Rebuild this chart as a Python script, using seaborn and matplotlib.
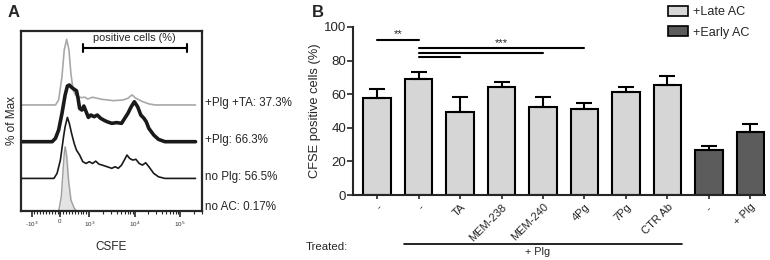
import numpy as np
import pandas as pd
import seaborn as sns
import matplotlib.pyplot as plt
import matplotlib.transforms as mtransforms
from matplotlib.patches import Patch

sns.set_style("ticks")
plt.rcParams['font.family'] = ['Liberation Sans', 'DejaVu Sans']

# ---- panel A: CFSE histograms (x in display channels, y in % of max units)
ta_x = [0, 199, 217, 236, 249, 263, 276, 287, 300, 313, 328, 346, 368, 383, 411, 438, 466, 494, 530, 586,
        613, 637, 659, 696, 733, 770, 1000]
ta_y = [0, 0, 2.8, 15.7, 30.6, 36.5, 30.6, 17.6, 8.3, 5.6, 4.6, 4.1, 4.3, 3.3, 4.3, 3.7, 3.1, 2.8, 2.4, 2.8,
        3.7, 5.6, 3.7, 1.9, 0.6, 0, 0]
plg_x = [0, 180, 199, 217, 236, 254, 267, 278, 291, 306, 319, 328, 337, 350, 361, 374, 387, 401, 420, 438,
         457, 475, 494, 521, 549, 577, 595, 613, 632, 650, 669, 687, 705, 718, 733, 761, 788, 825, 1000]
plg_y = [0, 0, 1.9, 6.5, 15.7, 25.9, 30.9, 31.5, 30.2, 29.1, 28.3, 24.1, 18.5, 17.6, 19.8, 16.7, 13.5, 14.8, 13.9, 14.8,
         13.0, 12.0, 11.1, 10.2, 10.6, 10.2, 13.0, 15.7, 19.4, 22.2, 19.4, 14.8, 13.0, 11.1, 7.4, 3.7, 1.3, 0, 0]
noplg_x = [0, 190, 208, 227, 245, 254, 267, 278, 291, 306, 319, 337, 355, 374, 392, 411, 429, 448, 466, 494,
           521, 540, 558, 577, 595, 608, 623, 641, 659, 678, 696, 715, 733, 761, 788, 825, 1000]
noplg_y = [0, 0, 2.8, 10.2, 23.1, 28.7, 33.9, 30.6, 25.0, 19.4, 15.7, 13.0, 9.3, 8.3, 9.3, 8.3, 9.6, 7.9, 7.4, 6.5,
           5.6, 6.5, 5.6, 7.4, 10.6, 13.0, 11.1, 10.2, 10.6, 8.3, 7.4, 8.7, 6.5, 2.8, 0.9, 0, 0]
noac_x = [217, 232, 241, 249, 254, 263, 273, 287, 306, 319]
noac_y = [0, 8.0, 20.9, 32.0, 35.7, 30.2, 17.2, 6.1, 1.5, 0]

offsets = [58.9, 38.5, 18.1, 0]
hist_labels = ["+Plg +TA: 37.3%", "+Plg: 66.3%", "no Plg: 56.5%", "no AC: 0.17%"]
tick_pos = [62, 222, 392, 652, 912]
tick_lab = ["-10$^3$", "0", "10$^3$", "10$^4$", "10$^5$"]

# ---- panel B: bar chart
groups = ["-", "-", "TA", "MEM-238", "MEM-240", "4Pg", "7Pg", "CTR Ab", "- ", "+ Plg"]
means = [57.9, 68.8, 49.4, 64.0, 52.2, 51.2, 61.5, 65.4, 26.9, 37.5]
errs = [5.3, 4.3, 8.7, 3.4, 5.9, 3.3, 2.5, 5.7, 2.5, 4.8]
ac_type = ["+Late AC"] * 8 + ["+Early AC"] * 2

fig = plt.figure(figsize=(7.7, 2.6), dpi=100)

# ================= A
axA = fig.add_axes([0.0269, 0.1885, 0.2352, 0.6923])
sns.lineplot(x=ta_x, y=np.array(ta_y) + offsets[0], ax=axA, color="#a8a8a8", linewidth=1.2, sort=False, estimator=None)
sns.lineplot(x=plg_x, y=np.array(plg_y) + offsets[1], ax=axA, color="#1a1a1a", linewidth=2.6, sort=False, estimator=None)
sns.lineplot(x=noplg_x, y=np.array(noplg_y) + offsets[2], ax=axA, color="#1a1a1a", linewidth=1.2, sort=False, estimator=None)
axA.fill_between(noac_x, noac_y, color="#e4e4e4", zorder=1)
axA.plot(noac_x, noac_y, color="#a0a0a0", linewidth=1.0)
axA.set_xlim(0, 1000)
axA.set_ylim(0, 100)
axA.set_yticks([])
axA.set_xticks(tick_pos)
axA.set_xticklabels(tick_lab, fontsize=4.5, color="#333333")
minor = list(np.linspace(62, 392, 21))
for d0 in (392, 652):
    minor += [d0 + 260 * np.log10(m) for m in range(2, 10)]
minor += [912 + 260 * np.log10(m) for m in range(2, 4)]
axA.set_xticks(minor, minor=True)
axA.tick_params(axis="x", which="major", length=4, width=1.2, direction="out", pad=2)
axA.tick_params(axis="x", which="minor", length=2, width=0.8)
for s in axA.spines.values():
    s.set_linewidth(1.6)
    s.set_visible(True)
axA.set_xlabel("CSFE", fontsize=8.5, labelpad=9)
axA.set_ylabel("% of Max", fontsize=8.5, labelpad=2)
# positive cells gate
axA.plot([355, 950], [90.7, 90.7], color="black", linewidth=1.5)
axA.plot([355, 355], [88.5, 92.9], color="black", linewidth=1.5)
axA.plot([950, 950], [88.5, 92.9], color="black", linewidth=1.5)
axA.text(652, 93.5, "positive cells (%)", fontsize=7.9, ha="center", va="bottom")
for lab, off in zip(hist_labels, offsets):
    axA.text(1.015, off / 100 + (0.01 if off > 0 else 0.02), lab, transform=axA.transAxes,
             fontsize=8.4, ha="left", va="center")

# ================= B
axB = fig.add_axes([0.4584, 0.25, 0.5351, 0.6462])
df = pd.DataFrame({"x": range(len(groups)), "mean": means, "type": ac_type})
sns.barplot(data=df, x="x", y="mean", hue="type", dodge=False, width=0.67,
            palette={"+Late AC": "#d6d6d6", "+Early AC": "#5c5c5c"},
            edgecolor="black", linewidth=1.5, errorbar=None, legend=False, ax=axB)
axB.errorbar(range(len(groups)), means, yerr=[np.zeros(len(errs)), errs], fmt="none",
             ecolor="black", elinewidth=1.5, capsize=6, capthick=1.5, zorder=1)
axB.set_xlim(-0.58, 9.35)
axB.set_ylim(0, 100)
axB.set_yticks([0, 20, 40, 60, 80, 100])
axB.tick_params(axis="y", labelsize=9.5, length=4, width=1.2, pad=1)
axB.set_xticks(range(len(groups)))
axB.set_xticklabels(groups, rotation=45, ha="right", rotation_mode="anchor", fontsize=8)
axB.tick_params(axis="x", length=3, width=1.2, pad=2)
axB.set_xlabel("")
axB.set_ylabel("CFSE positive cells (%)", fontsize=9.3, labelpad=2)
sns.despine(ax=axB)
for s in ("left", "bottom"):
    axB.spines[s].set_linewidth(1.5)

# significance lines
axB.plot([0, 1], [92.5, 92.5], color="black", linewidth=1.5)
axB.text(0.5, 92.8, "**", ha="center", va="bottom", fontsize=8)
axB.plot([1, 5], [87.2, 87.2], color="black", linewidth=1.5)
axB.plot([1, 4], [84.6, 84.6], color="black", linewidth=1.5)
axB.plot([1, 2], [82.0, 82.0], color="black", linewidth=1.5)
axB.text(3.0, 87.5, "***", ha="center", va="bottom", fontsize=8)

# treated annotation
trans = mtransforms.blended_transform_factory(axB.transData, axB.transAxes)
axB.plot([0.65, 7.35], [-0.29, -0.29], color="black", linewidth=1.2, transform=trans, clip_on=False)
axB.text(3.88, -0.31, "+ Plg", transform=trans, ha="center", va="top", fontsize=7.8)
fig.text(327 / 770, 1 - 247 / 260, "Treated:", fontsize=8.2, ha="center", va="center")

handles = [Patch(facecolor="#d6d6d6", edgecolor="black", linewidth=1.2, label="+Late AC"),
           Patch(facecolor="#5c5c5c", edgecolor="black", linewidth=1.2, label="+Early AC")]
fig.legend(handles=handles, loc="upper left", bbox_to_anchor=(0.853, 1.022), frameon=False,
           fontsize=9.1, handlelength=1.55, handleheight=0.85, handletextpad=0.45, labelspacing=0.65,
           borderpad=0.4)

fig.text(8 / 770, 1 - 12 / 260, "A", fontsize=12, fontweight="bold", ha="left", va="center")
fig.text(312 / 770, 1 - 12 / 260, "B", fontsize=12, fontweight="bold", ha="left", va="center")

fig.savefig("out.png", dpi=100)
